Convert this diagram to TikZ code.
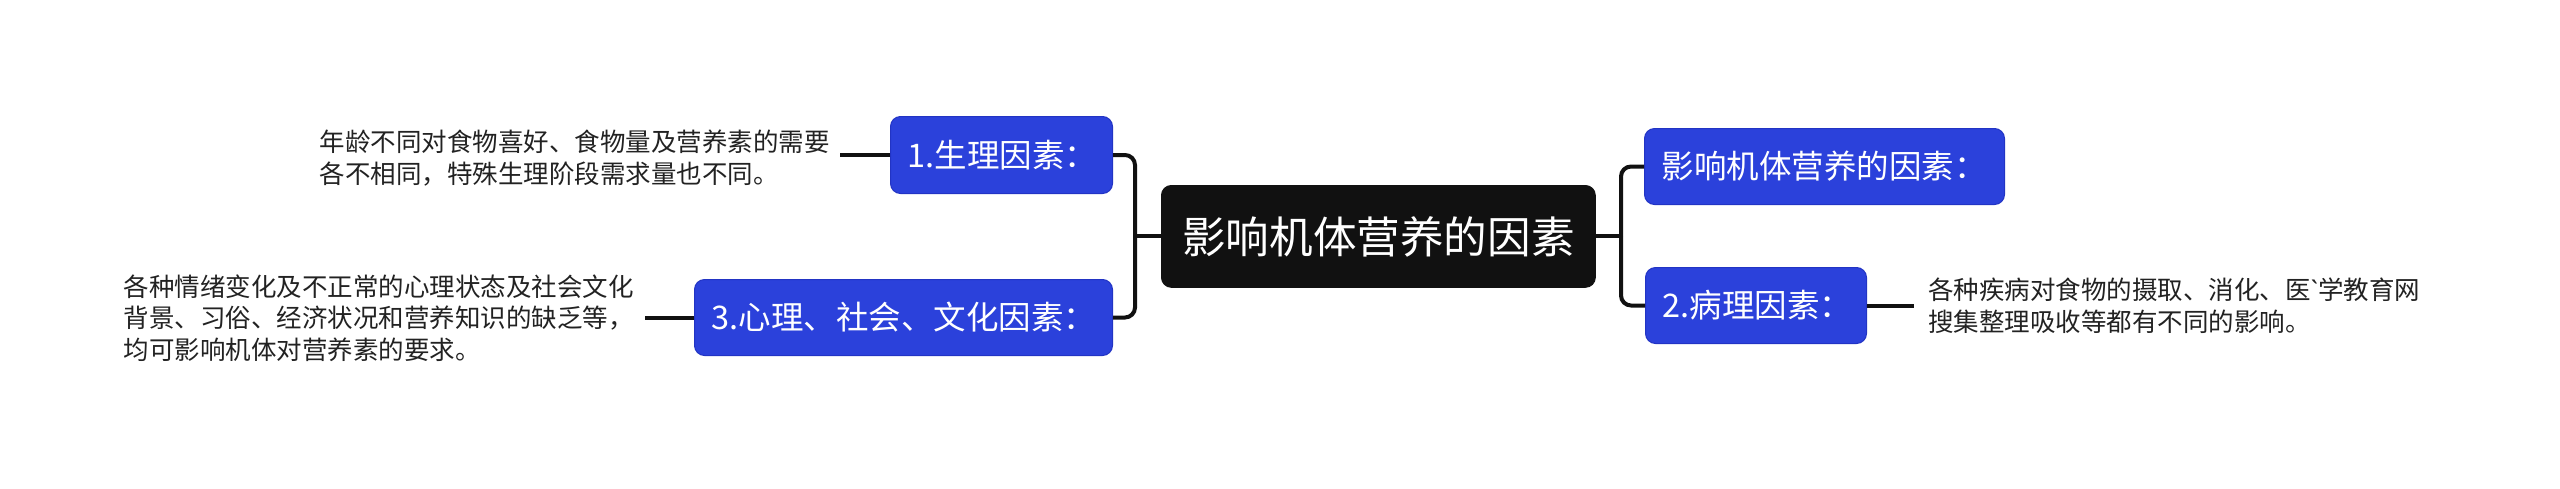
\documentclass[tikz,border=0pt]{standalone}
\usepackage{fontspec}
\setmainfont{Noto Sans CJK SC}[Ligatures=TeXOff]
\newfontfamily\latinfont{Noto Sans}[Ligatures=TeXOff]
\definecolor{bluefill}{HTML}{2B41DB}
\definecolor{blueedge}{HTML}{2234C4}
\definecolor{darkfill}{HTML}{111111}
\definecolor{leaftext}{HTML}{222222}
\begin{document}
\begin{tikzpicture}[x=0.5pt,y=-0.5pt,
  rootbox/.style={draw=darkfill,fill=darkfill,rounded corners=5pt,text=white,
    anchor=north west,minimum width=217pt,minimum height=51pt,inner sep=0pt,
    font=\fontsize{21.8pt}{26pt}\selectfont},
  bluebox/.style={draw=blueedge,line width=0.5pt,fill=bluefill,rounded corners=5pt,text=white,
    anchor=north west,inner xsep=8.5pt,inner ysep=0pt,align=left,
    font=\fontsize{16.25pt}{19pt}\selectfont},
  leaf/.style={text=leaftext,align=left,inner ysep=0pt,
    font=\fontsize{12.75pt}{15.8pt}\selectfont},
  conn/.style={draw=darkfill,line width=2pt},
  branch/.style={conn,rounded corners=5pt}
]
\path[use as bounding box] (0,0) rectangle (2560,488);

\node[rootbox] (c) at (1161,185) {影响机体营养的因素};

\node[bluebox,text width=94pt,minimum height=38.5pt] (n1) at (890,116) {1.生理因素：};
\node[bluebox,text width=192pt,minimum height=38pt] (n3) at (694,279) {3.心理、社会、文化因素：};
\node[bluebox,text width=163pt,minimum height=38pt] (r1) at (1644,128) {影响机体营养的因素：};
\node[bluebox,text width=93.5pt,minimum height=38pt] (n2) at (1645,267) {2.病理因素：};

\node[leaf,anchor=east,inner xsep=5pt] (t1) at (840,158)
  {年龄不同对食物喜好、食物量及营养素的需要\\各不相同，特殊生理阶段需求量也不同。};
\node[leaf,anchor=east,inner xsep=5.5pt] (t3) at (645,318)
  {各种情绪变化及不正常的心理状态及社会文化\\背景、习俗、经济状况和营养知识的缺乏等，\\均可影响机体对营养素的要求。};
\node[leaf,anchor=west,inner xsep=7pt] (t2) at (1914,306)
  {各种疾病对食物的摄取、消化、医{\latinfont `}学教育网\\搜集整理吸收等都有不同的影响。};

\coordinate (jl) at (1135,236);
\coordinate (jr) at (1621,236);

\draw[conn] (c.west |- jl) -- (jl);
\draw[branch] (jl) |- (n1.east);
\draw[branch] (jl) |- (n3.east);
\draw[conn] (c.east |- jr) -- (jr);
\draw[branch] (jr) |- (r1.west);
\draw[branch] (jr) |- (n2.west);

\draw[conn] (n1.west) -- (n1.west -| t1.east);
\draw[conn] (n3.west) -- (n3.west -| t3.east);
\draw[conn] (n2.east) -- (n2.east -| t2.west);
\end{tikzpicture}
\end{document}
